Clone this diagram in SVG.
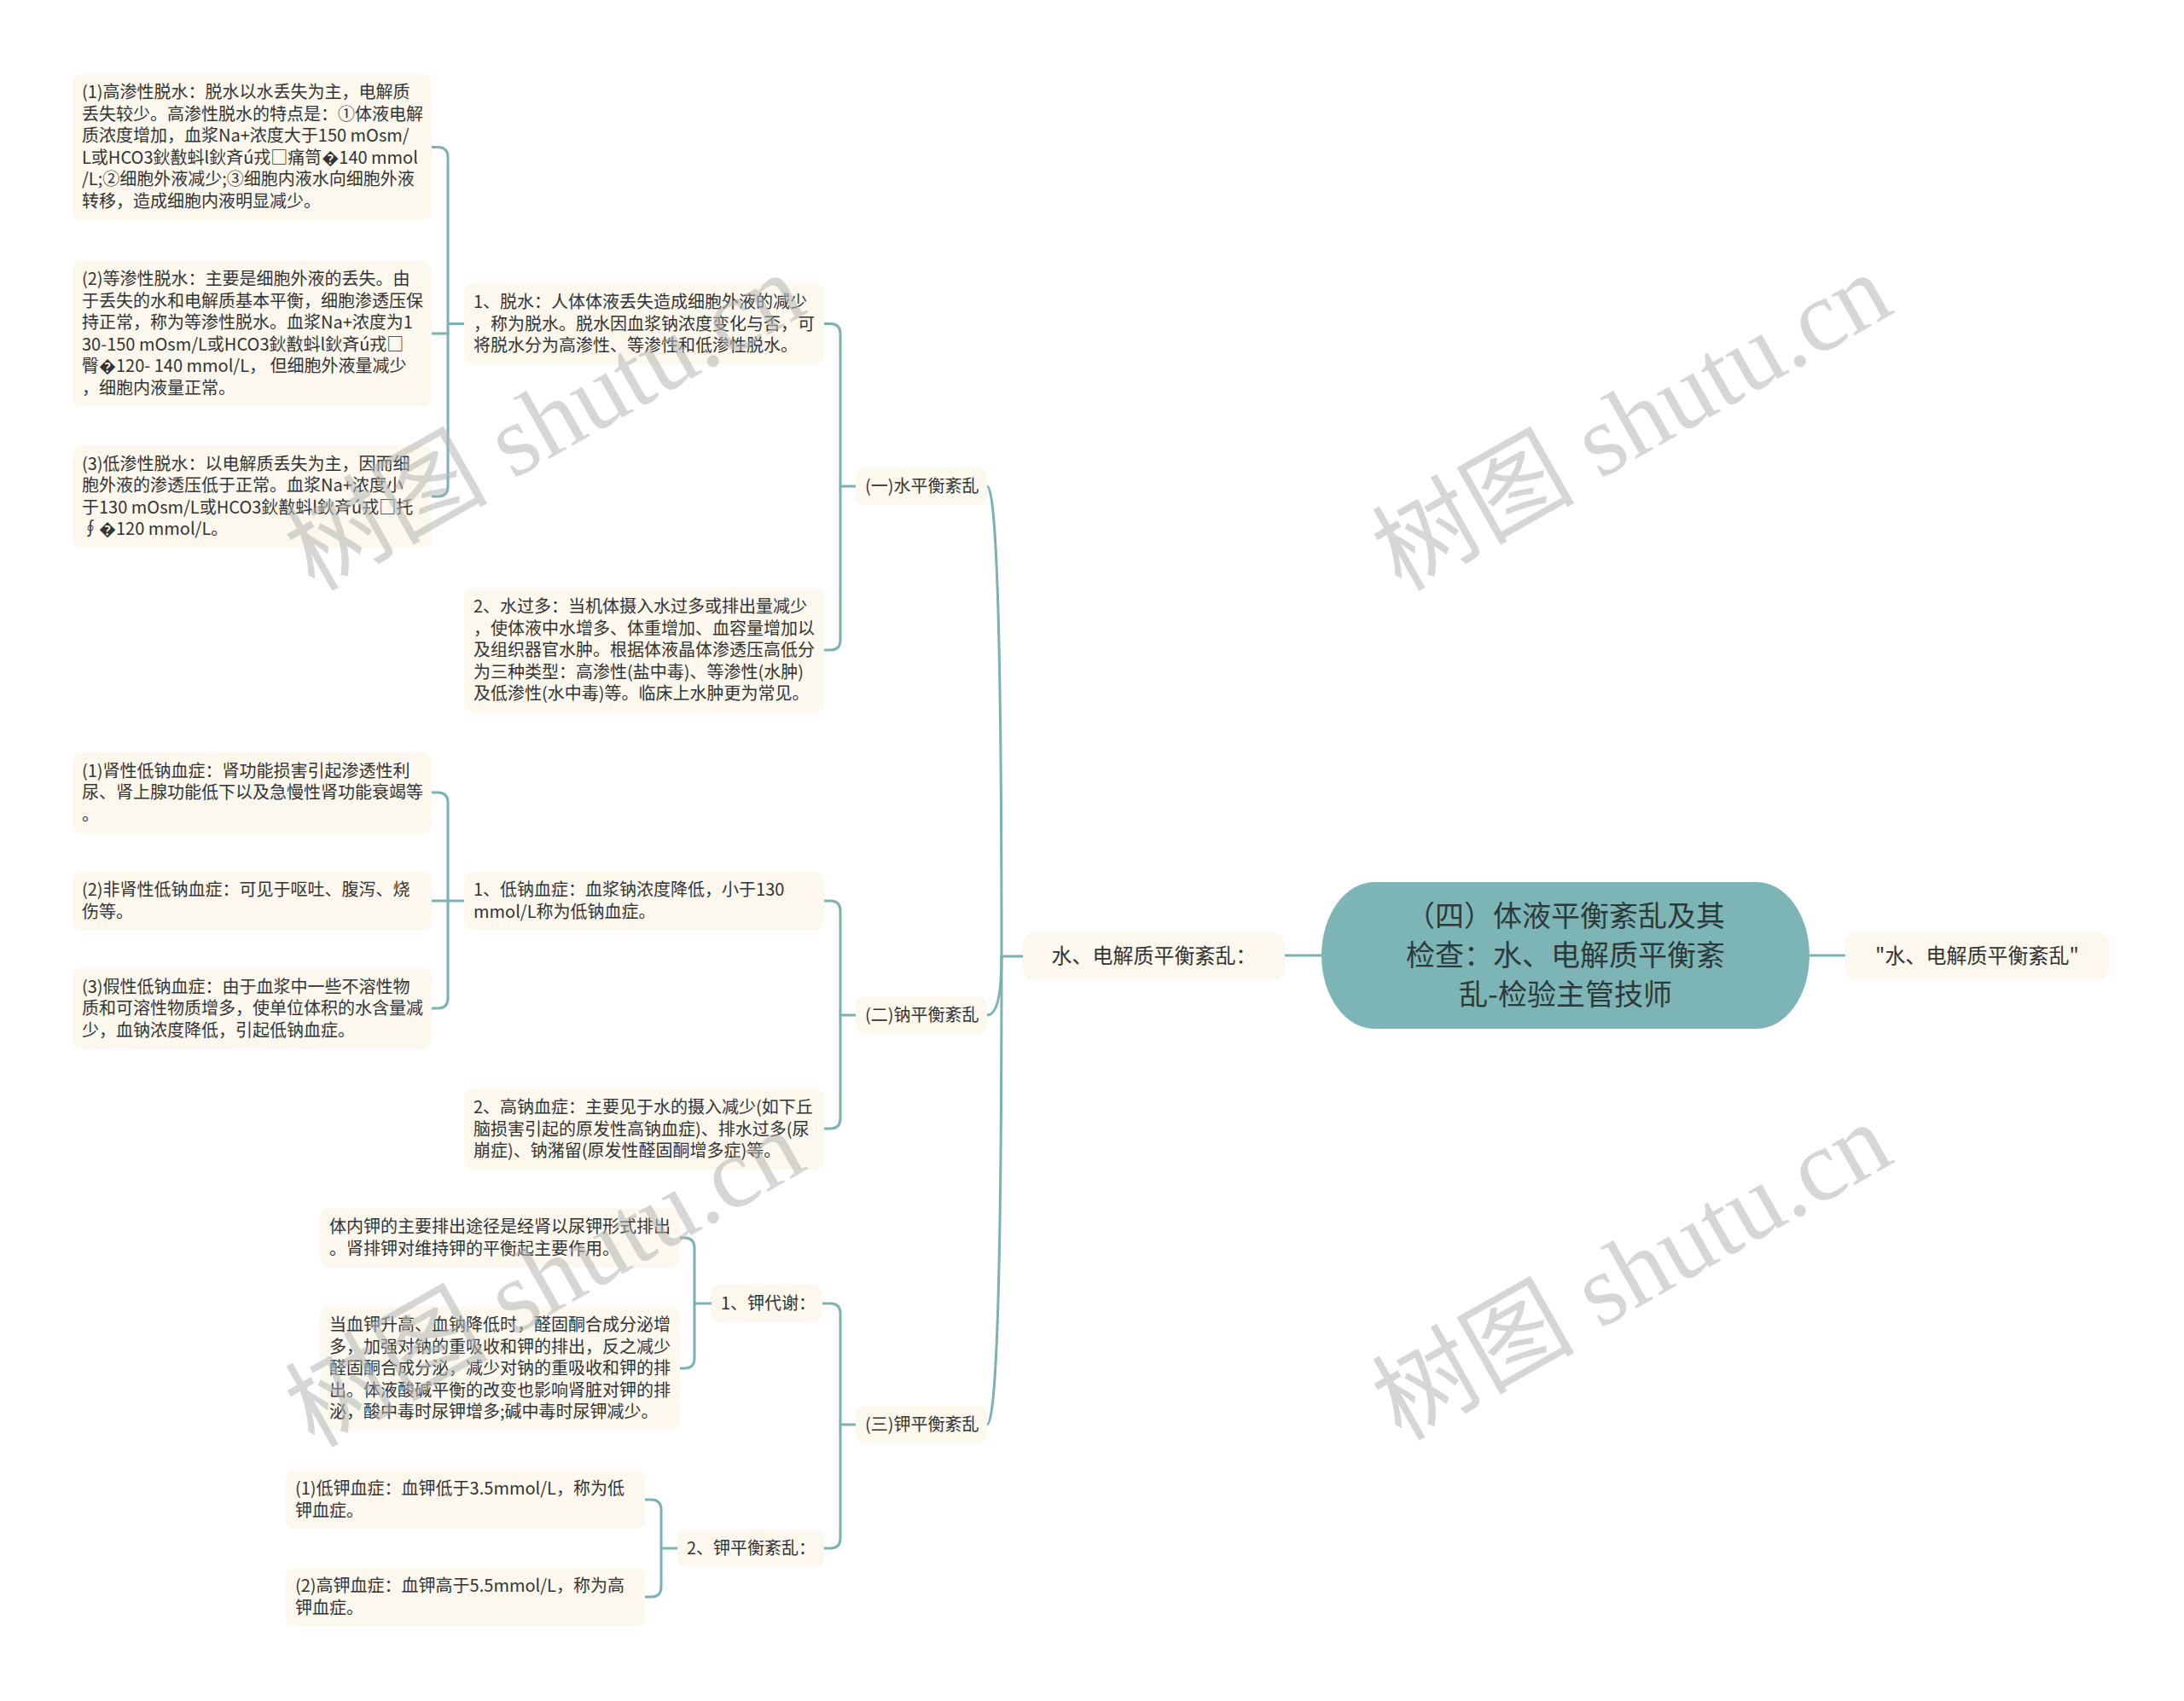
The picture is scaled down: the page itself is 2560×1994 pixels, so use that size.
<svg xmlns="http://www.w3.org/2000/svg" width="2560" height="1994" viewBox="0 0 2560 1994">
<style>
.n{fill:#fcf8ee;}
.t{font-family:"Noto Sans CJK SC","Noto Sans",sans-serif;font-size:20px;fill:#333;}
.t24{font-family:"Noto Sans CJK SC","Noto Sans",sans-serif;font-size:24px;fill:#333;}
.tc{font-family:"Noto Sans CJK SC","Noto Sans",sans-serif;font-size:34px;fill:#2e3a3a;}
.c{fill:none;stroke:#7ab1b3;stroke-width:3;stroke-linecap:round;}
.wm{font-family:"Liberation Serif","Noto Sans CJK SC",serif;font-size:119px;fill:#b4b4b4;fill-opacity:0.55;}
</style>
<rect width="2560" height="1994" fill="#ffffff"/>

<g id="connectors">
<path class="c" d="M1549 1120 H1506"/>
<path class="c" d="M2121 1120 H2163"/>
<path class="c" d="M1199 1121 H1174"/>
<path class="c" d="M1174 1121 Q1174 570 1157 570"/>
<path class="c" d="M1174 1121 Q1174 1190 1157 1190"/>
<path class="c" d="M1174 1121 Q1174 1670 1157 1670"/>
<path class="c" d="M966 379.5 H973 Q985 379.5 985 391.5 V750 Q985 762 973 762 H966"/>
<path class="c" d="M985 570 H1003"/>
<path class="c" d="M966 1056 H973 Q985 1056 985 1068 V1311 Q985 1323 973 1323 H966"/>
<path class="c" d="M985 1190 H1003"/>
<path class="c" d="M964 1528 H973 Q985 1528 985 1540 V1803 Q985 1815 973 1815 H966"/>
<path class="c" d="M985 1670 H1003"/>
<path class="c" d="M506 172.5 H513 Q525 172.5 525 184.5 V570 Q525 582 513 582 H506"/>
<path class="c" d="M506 391 H525"/>
<path class="c" d="M525 379.5 H544"/>
<path class="c" d="M506 929 H513 Q525 929 525 941 V1170 Q525 1182 513 1182 H506"/>
<path class="c" d="M506 1056 H544"/>
<path class="c" d="M797 1451 H802 Q814 1451 814 1463 V1592 Q814 1604 802 1604 H797"/>
<path class="c" d="M814 1528 H834"/>
<path class="c" d="M756 1758 H763 Q775 1758 775 1770 V1860 Q775 1872 763 1872 H756"/>
<path class="c" d="M775 1815 H794"/>
</g>

<g id="root">
<rect x="1549" y="1034" width="572" height="172" rx="62" ry="86" fill="#7db4b6"/>
<text class="tc" text-anchor="middle"><tspan x="1835" y="1086">（四）体液平衡紊乱及其</tspan><tspan x="1835" y="1132">检查：水、电解质平衡紊</tspan><tspan x="1835" y="1178">乱-检验主管技师</tspan></text>
</g>

<g id="left-main">
<rect class="n" x="1199" y="1093" width="307" height="56" rx="14"/>
<text class="t24" x="1352.5" y="1129" text-anchor="middle">水、电解质平衡紊乱：</text>
</g>

<g id="right-main">
<rect class="n" x="2163" y="1093" width="309" height="56" rx="14"/>
<text class="t24" x="2317.5" y="1129" text-anchor="middle">"水、电解质平衡紊乱"</text>
</g>

<g id="water">
<rect class="n" x="1003" y="548" width="154" height="44" rx="10"/>
<text class="t" x="1014" y="577">(一)水平衡紊乱</text>
</g>
<g id="sodium">
<rect class="n" x="1003" y="1168" width="154" height="44" rx="10"/>
<text class="t" x="1014" y="1197">(二)钠平衡紊乱</text>
</g>
<g id="potassium">
<rect class="n" x="1003" y="1648" width="154" height="44" rx="10"/>
<text class="t" x="1014" y="1677">(三)钾平衡紊乱</text>
</g>

<g id="dehydration">
<rect class="n" x="544" y="332" width="422" height="95" rx="10"/>
<text class="t"><tspan x="555" y="361">1、脱水：人体体液丢失造成细胞外液的减少</tspan><tspan x="555" y="386.5">，称为脱水。脱水因血浆钠浓度变化与否，可</tspan><tspan x="555" y="412">将脱水分为高渗性、等渗性和低渗性脱水。</tspan></text>
</g>
<g id="water-excess">
<rect class="n" x="544" y="689" width="422" height="146" rx="10"/>
<text class="t"><tspan x="555" y="718">2、水过多：当机体摄入水过多或排出量减少</tspan><tspan x="555" y="743.5">，使体液中水增多、体重增加、血容量增加以</tspan><tspan x="555" y="769">及组织器官水肿。根据体液晶体渗透压高低分</tspan><tspan x="555" y="794.5">为三种类型：高渗性(盐中毒)、等渗性(水肿)</tspan><tspan x="555" y="820">及低渗性(水中毒)等。临床上水肿更为常见。</tspan></text>
</g>

<g id="hyper-dehydration">
<rect class="n" x="85" y="87" width="421" height="171" rx="10"/>
<text class="t"><tspan x="96" y="115">(1)高渗性脱水：脱水以水丢失为主，电解质</tspan><tspan x="96" y="140.5">丢失较少。高渗性脱水的特点是：①体液电解</tspan><tspan x="96" y="166">质浓度增加，血浆Na+浓度大于150 mOsm/</tspan><tspan x="96" y="191.5">L或HCO3鈥敾蚪l鈥斉ú戎□痛笥�140 mmol</tspan><tspan x="96" y="217">/L;②细胞外液减少;③细胞内液水向细胞外液</tspan><tspan x="96" y="242.5">转移，造成细胞内液明显减少。</tspan></text>
</g>
<g id="iso-dehydration">
<rect class="n" x="85" y="305.5" width="421" height="171" rx="10"/>
<text class="t"><tspan x="96" y="334">(2)等渗性脱水：主要是细胞外液的丢失。由</tspan><tspan x="96" y="359.5">于丢失的水和电解质基本平衡，细胞渗透压保</tspan><tspan x="96" y="385">持正常，称为等渗性脱水。血浆Na+浓度为1</tspan><tspan x="96" y="410.5">30-150 mOsm/L或HCO3鈥敾蚪l鈥斉ú戎□</tspan><tspan x="96" y="436">臀�120- 140 mmol/L， 但细胞外液量减少</tspan><tspan x="96" y="461.5">，细胞内液量正常。</tspan></text>
</g>
<g id="hypo-dehydration">
<rect class="n" x="85" y="522" width="421" height="120" rx="10"/>
<text class="t"><tspan x="96" y="550.5">(3)低渗性脱水：以电解质丢失为主，因而细</tspan><tspan x="96" y="576">胞外液的渗透压低于正常。血浆Na+浓度小</tspan><tspan x="96" y="601.5">于130 mOsm/L或HCO3鈥敾蚪l鈥斉ú戎□托</tspan><tspan x="96" y="627">∮�120 mmol/L。</tspan></text>
</g>

<g id="hyponatremia">
<rect class="n" x="544" y="1021.5" width="422" height="69" rx="10"/>
<text class="t"><tspan x="555" y="1050">1、低钠血症：血浆钠浓度降低，小于130</tspan><tspan x="555" y="1075.5">mmol/L称为低钠血症。</tspan></text>
</g>
<g id="hypernatremia">
<rect class="n" x="544" y="1276" width="422" height="95" rx="10"/>
<text class="t"><tspan x="555" y="1305">2、高钠血症：主要见于水的摄入减少(如下丘</tspan><tspan x="555" y="1330.5">脑损害引起的原发性高钠血症)、排水过多(尿</tspan><tspan x="555" y="1356">崩症)、钠潴留(原发性醛固酮增多症)等。</tspan></text>
</g>

<g id="renal-hypo">
<rect class="n" x="85" y="882" width="421" height="95" rx="10"/>
<text class="t"><tspan x="96" y="910.5">(1)肾性低钠血症：肾功能损害引起渗透性利</tspan><tspan x="96" y="936">尿、肾上腺功能低下以及急慢性肾功能衰竭等</tspan><tspan x="96" y="961.5">。</tspan></text>
</g>
<g id="nonrenal-hypo">
<rect class="n" x="85" y="1021.5" width="421" height="69" rx="10"/>
<text class="t"><tspan x="96" y="1050">(2)非肾性低钠血症：可见于呕吐、腹泻、烧</tspan><tspan x="96" y="1075.5">伤等。</tspan></text>
</g>
<g id="pseudo-hypo">
<rect class="n" x="85" y="1135" width="421" height="95" rx="10"/>
<text class="t"><tspan x="96" y="1163.5">(3)假性低钠血症：由于血浆中一些不溶性物</tspan><tspan x="96" y="1189">质和可溶性物质增多，使单位体积的水含量减</tspan><tspan x="96" y="1214.5">少，血钠浓度降低，引起低钠血症。</tspan></text>
</g>

<g id="k-metabolism">
<rect class="n" x="834" y="1506" width="130" height="44" rx="10"/>
<text class="t" x="845" y="1535">1、钾代谢：</text>
</g>
<g id="k-excretion">
<rect class="n" x="375" y="1416.5" width="422" height="69" rx="10"/>
<text class="t"><tspan x="386" y="1445">体内钾的主要排出途径是经肾以尿钾形式排出</tspan><tspan x="386" y="1470.5">。肾排钾对维持钾的平衡起主要作用。</tspan></text>
</g>
<g id="k-aldosterone">
<rect class="n" x="375" y="1531" width="422" height="146" rx="10"/>
<text class="t"><tspan x="386" y="1560">当血钾升高、血钠降低时，醛固酮合成分泌增</tspan><tspan x="386" y="1585.5">多，加强对钠的重吸收和钾的排出，反之减少</tspan><tspan x="386" y="1611">醛固酮合成分泌，减少对钠的重吸收和钾的排</tspan><tspan x="386" y="1636.5">出。体液酸碱平衡的改变也影响肾脏对钾的排</tspan><tspan x="386" y="1662">泌，酸中毒时尿钾增多;碱中毒时尿钾减少。</tspan></text>
</g>

<g id="k-disorder">
<rect class="n" x="794" y="1793" width="172" height="44" rx="10"/>
<text class="t" x="805" y="1822">2、钾平衡紊乱：</text>
</g>
<g id="hypokalemia">
<rect class="n" x="335" y="1723.5" width="421" height="69" rx="10"/>
<text class="t"><tspan x="346" y="1752">(1)低钾血症：血钾低于3.5mmol/L，称为低</tspan><tspan x="346" y="1777.5">钾血症。</tspan></text>
</g>
<g id="hyperkalemia">
<rect class="n" x="335" y="1837.5" width="421" height="69" rx="10"/>
<text class="t"><tspan x="346" y="1866">(2)高钾血症：血钾高于5.5mmol/L，称为高</tspan><tspan x="346" y="1891.5">钾血症。</tspan></text>
</g>

<g id="watermarks">
<text class="wm" transform="translate(368 694) rotate(-29.5)">树图 shutu.cn</text>
<text class="wm" transform="translate(1642 694) rotate(-29.5)">树图 shutu.cn</text>
<text class="wm" transform="translate(368 1698) rotate(-29.5)">树图 shutu.cn</text>
<text class="wm" transform="translate(1642 1690) rotate(-29.5)">树图 shutu.cn</text>
</g>
</svg>
